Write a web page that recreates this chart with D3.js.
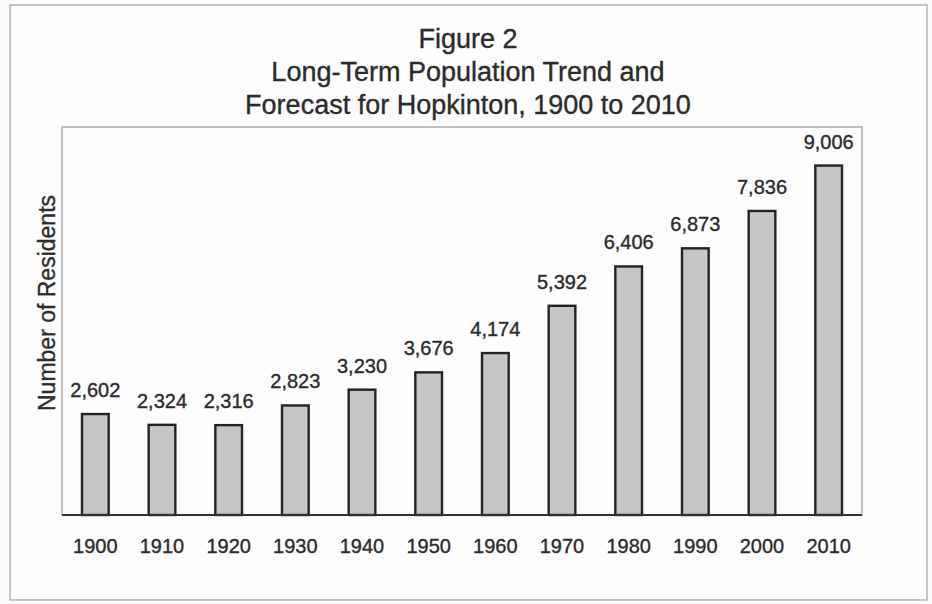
<!DOCTYPE html>
<html>
<head>
<meta charset="utf-8">
<script src="https://cdn.jsdelivr.net/npm/d3@7/dist/d3.min.js"></script>
<style>
  html, body { margin: 0; padding: 0; background: #fcfcfc; }
  svg { display: block; }
  text { font-family: "Liberation Sans", Arial, sans-serif; fill: #2b2b2b; stroke: #2b2b2b; stroke-width: 0.35px; }
</style>
</head>
<body>
<script>
// Hopkinton population by decade (2010 is a forecast)
const years = ["1900", "1910", "1920", "1930", "1940", "1950", "1960", "1970", "1980", "1990", "2000", "2010"];
const residents = [2602, 2324, 2316, 2823, 3230, 3676, 4174, 5392, 6406, 6873, 7836, 9006];
const titleLines = ["Figure 2", "Long-Term Population Trend and", "Forecast for Hopkinton, 1900 to 2010"];
const yLabel = "Number of Residents";
const yMax = 10000;

const W = 932, H = 604;
const plot = { left: 62, right: 862, top: 127, bottom: 515 };

const svg = d3.select("body").append("svg")
  .attr("width", W).attr("height", H);

// outer frame
svg.append("rect")
  .attr("x", 10).attr("y", 5)
  .attr("width", 917).attr("height", 595)
  .attr("fill", "#fdfdfd")
  .attr("stroke", "#a0a0a0").attr("stroke-width", 1.2);

// title
svg.append("g").selectAll("text")
  .data(titleLines)
  .join("text")
  .attr("x", 468)
  .attr("y", (d, i) => 48 + i * 33)
  .attr("text-anchor", "middle")
  .attr("font-size", 27)
  .text(d => d);

const x = d3.scaleBand()
  .domain(years)
  .range([plot.left, plot.right])
  .paddingInner(0.6)
  .paddingOuter(0.3);

const y = d3.scaleLinear()
  .domain([0, yMax])
  .range([plot.bottom, plot.top]);

// plot area border
svg.append("rect")
  .attr("x", plot.left).attr("y", plot.top)
  .attr("width", plot.right - plot.left)
  .attr("height", plot.bottom - plot.top)
  .attr("fill", "none")
  .attr("stroke", "#9a9a9a").attr("stroke-width", 1.2);

// bars
svg.append("g").selectAll("rect")
  .data(residents)
  .join("rect")
  .attr("x", (d, i) => x(years[i]))
  .attr("y", d => y(d))
  .attr("width", x.bandwidth())
  .attr("height", d => y(0) - y(d))
  .attr("fill", "#c6c6c6")
  .attr("stroke", "#222")
  .attr("stroke-width", 2.4);

// value labels
const fmt = d3.format(",");
svg.append("g").selectAll("text")
  .data(residents)
  .join("text")
  .attr("x", (d, i) => x(years[i]) + x.bandwidth() / 2)
  .attr("y", d => y(d) - 17)
  .attr("text-anchor", "middle")
  .attr("font-size", 20)
  .text(d => fmt(d));

// x axis
const xAxis = svg.append("g")
  .attr("transform", `translate(0,${plot.bottom})`)
  .call(d3.axisBottom(x).tickSize(0).tickPadding(0));
xAxis.select(".domain")
  .attr("stroke", "#333").attr("stroke-width", 1.8)
  .attr("d", `M${plot.left},0H${plot.right}`);
xAxis.selectAll(".tick text")
  .attr("y", 38)
  .attr("dy", null)
  .attr("font-size", 20)
  .attr("font-family", "Liberation Sans, Arial, sans-serif")
  .attr("fill", "#2b2b2b");

// y axis title
svg.append("text")
  .attr("transform", "translate(55,303) rotate(-90)")
  .attr("text-anchor", "middle")
  .attr("font-size", 23)
  .text(yLabel);
</script>
</body>
</html>
